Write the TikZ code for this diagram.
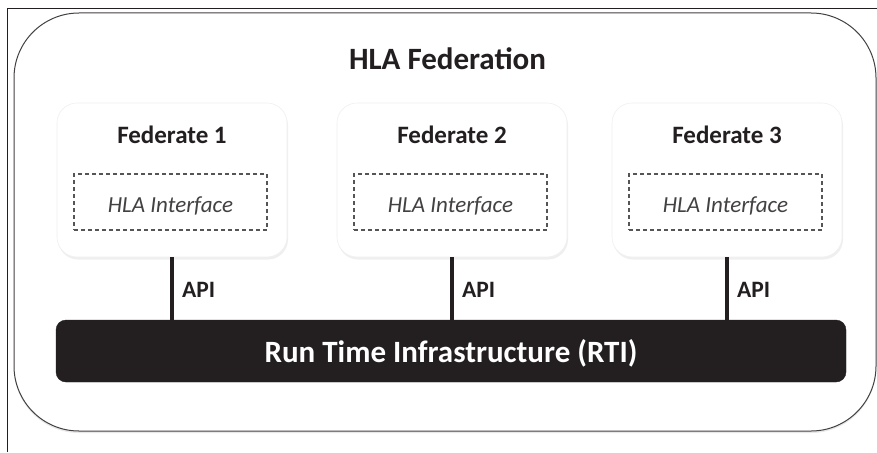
\documentclass[tikz,border=0pt]{standalone}
\usepackage{fontspec}
\setmainfont{Carlito}
\usetikzlibrary{shadows}
\definecolor{ink}{HTML}{231F20}
\definecolor{dashgray}{HTML}{555555}
\begin{document}
\begin{tikzpicture}[x=1pt,y=-1pt,
  container/.style={draw=ink!85, fill=white, line width=1pt, rounded corners=65pt,
    minimum width=862pt, minimum height=418pt, inner sep=0pt,
    drop shadow={opacity=0.18, shadow xshift=0pt, shadow yshift=-2pt}},
  fedbox/.style={draw=gray!12, line width=0.6pt, fill=white, rounded corners=20pt,
    minimum width=230pt, minimum height=154pt, inner sep=0pt,
    drop shadow={opacity=0.12, shadow xshift=1pt, shadow yshift=-2.5pt}},
  ifbox/.style={draw=dashgray, line width=1.1pt, dash pattern=on 4pt off 3pt,
    minimum width=193pt, minimum height=56pt, inner sep=0pt},
  fedtitle/.style={font=\fontsize{25}{30}\selectfont\bfseries, text=ink, anchor=base, inner sep=0pt},
  iftext/.style={font=\fontsize{23}{28}\selectfont\itshape, text=ink!85, anchor=base, inner sep=0pt},
  apitext/.style={font=\fontsize{23.5}{28}\selectfont\bfseries, text=ink, anchor=base west, inner sep=0pt},
  link/.style={draw=ink, line width=3.6pt},
  rtibox/.style={fill=ink, draw=ink, rounded corners=10pt, minimum width=790pt,
    minimum height=62pt, inner sep=0pt}
]
\useasboundingbox (0,0) rectangle (877,452);
% outer frame (left and top edges)
\draw[ink, line width=0.9pt] (7,452) -- (7,8) -- (877,8);
% federation container
\node[container] (federation) at (445,222) {};
\node[font=\fontsize{31}{36}\selectfont\bfseries, text=ink, anchor=base, inner sep=0pt] (title) at (447.5,70) {HLA Federation};
% federates
\node[fedbox] (f1) at (172,180) {};
\node[fedbox] (f2) at (452,180) {};
\node[fedbox] (f3) at (727,180) {};
\node[fedtitle] (t1) at (172,143) {Federate 1};
\node[fedtitle] (t2) at (452,143) {Federate 2};
\node[fedtitle] (t3) at (727,143) {Federate 3};
\node[ifbox] (i1) at (170.5,202) {};
\node[ifbox] (i2) at (450.5,202) {};
\node[ifbox] (i3) at (725.5,202) {};
\node[iftext] (it1) at (170.5,212) {HLA Interface};
\node[iftext] (it2) at (450.5,212) {HLA Interface};
\node[iftext] (it3) at (725.5,212) {HLA Interface};
% RTI
\node[rtibox] (rti) at (451,351) {};
\node[font=\fontsize{31}{36}\selectfont\bfseries, text=white, anchor=base, inner sep=0pt] (rtitext) at (451,362) {Run Time Infrastructure (RTI)};
% connectors
\draw[link] (f1.south) -- (f1.south |- rti.north);
\draw[link] (f2.south) -- (f2.south |- rti.north);
\draw[link] (f3.south) -- (f3.south |- rti.north);
\node[apitext] (a1) at (182,297) {API};
\node[apitext] (a2) at (462,297) {API};
\node[apitext] (a3) at (737,297) {API};
\end{tikzpicture}
\end{document}
